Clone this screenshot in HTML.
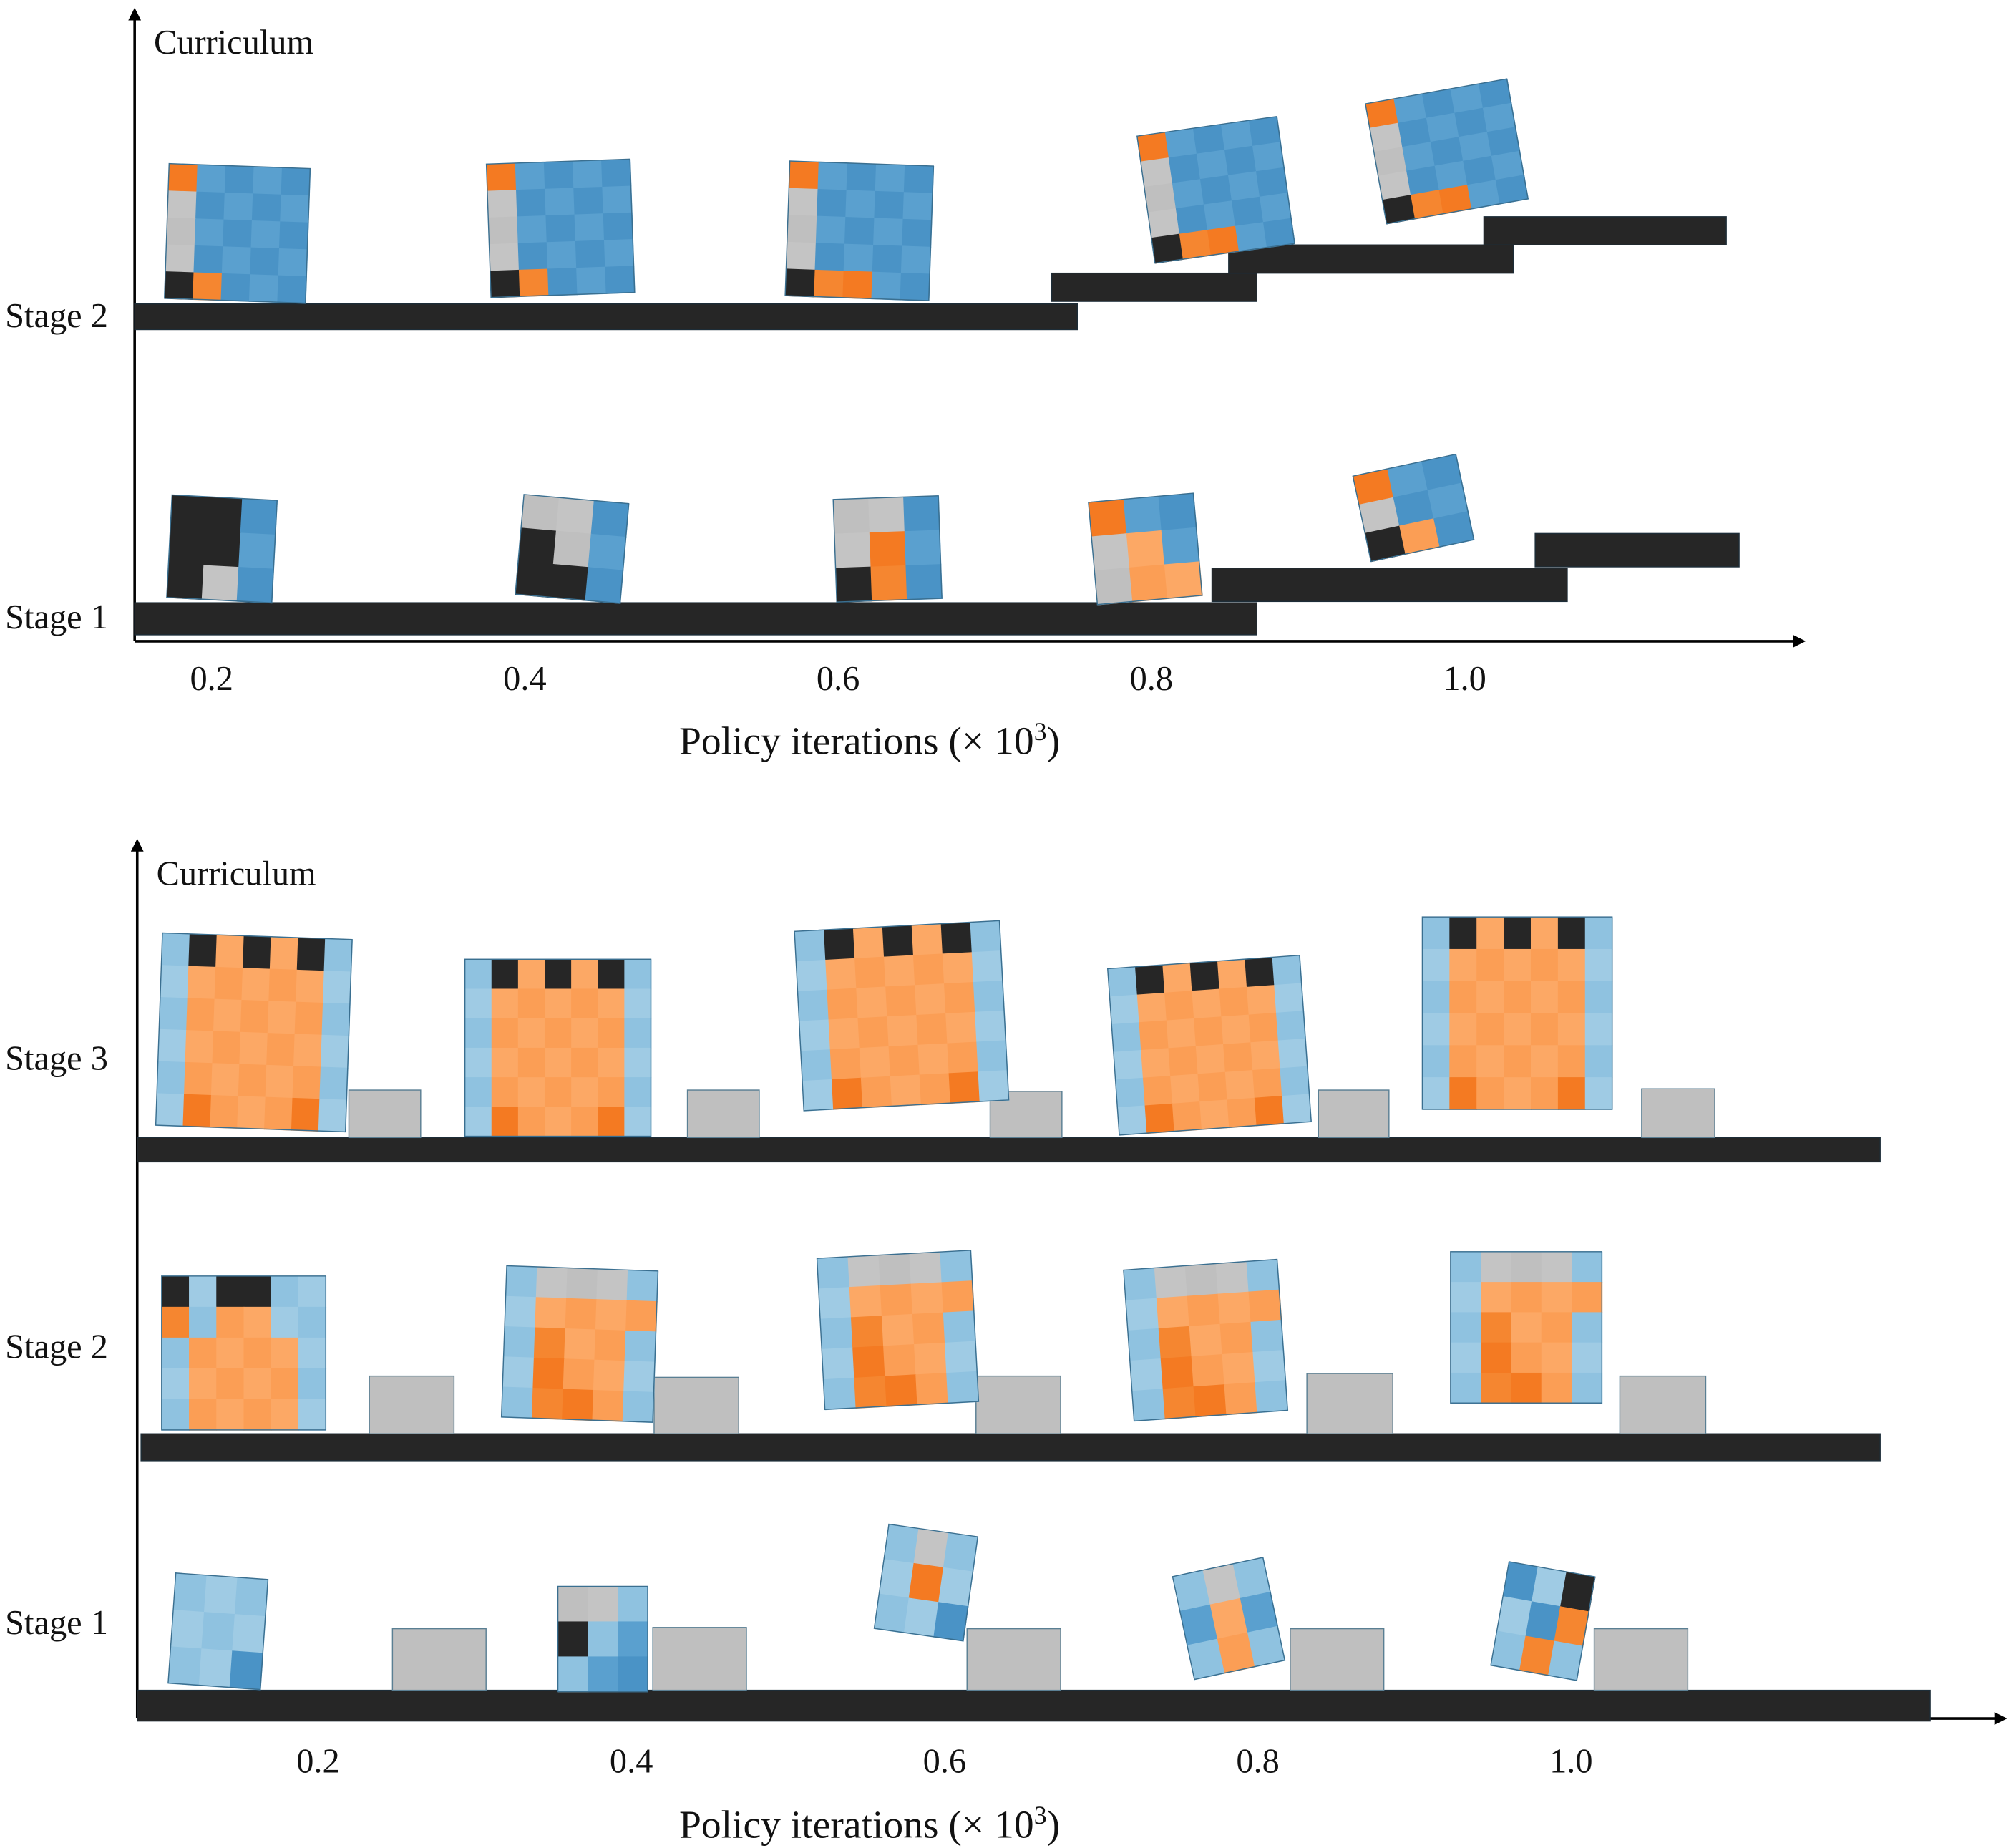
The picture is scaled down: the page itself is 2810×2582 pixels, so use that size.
<!DOCTYPE html>
<html><head><meta charset="utf-8"><style>
html,body{margin:0;padding:0;background:#fff}
svg{display:block}
text{font-family:"Liberation Serif",serif;fill:#111}
</style></head><body>
<svg id="fig" width="2810" height="2582" viewBox="0 0 1568 1441" preserveAspectRatio="none" xmlns="http://www.w3.org/2000/svg">
<defs>
<marker id="arr" markerWidth="10" markerHeight="10" refX="8" refY="5" orient="auto" markerUnits="userSpaceOnUse"><path d="M0,0 L10,5 L0,10 z" fill="#000"/></marker>
</defs>
<g id="top"></g>
<g id="bot"></g>
</svg>
<script>
const NS="http://www.w3.org/2000/svg";
const topTickLabels=["0.2","0.4","0.6","0.8","1.0"];
const topTickValues=[0.2,0.4,0.6,0.8,1.0];
const botTickLabels=["0.2","0.4","0.6","0.8","1.0"];
const botTickValues=[0.2,0.4,0.6,0.8,1.0];
const topStages=["Stage 2","Stage 1"];
const botStages=["Stage 3","Stage 2","Stage 1"];

function mk(tag,attrs,parent,txt){const e=document.createElementNS(NS,tag);for(const k in attrs)e.setAttribute(k,attrs[k]);if(txt!==undefined)e.textContent=txt;parent.appendChild(e);return e;}
const topG=document.getElementById('top'), botG=document.getElementById('bot');
const xTop=v=>165+(v-0.2)/0.8*(1142-165);
const xBot=v=>248+(v-0.2)/0.8*(1225-248);

function axes(g,x0,yTop,yBase,xEnd,ticks,labels,xf,tickY,titleY,stageNames,stageYs){
 let a=mk('line',{x1:x0,y1:yBase,x2:x0,y2:yTop,stroke:'#000','stroke-width':2,'marker-end':'url(#arr)'},g);
 
 let b=mk('line',{x1:x0,y1:yBase,x2:xEnd,y2:yBase,stroke:'#000','stroke-width':2,'marker-end':'url(#arr)'},g);
 
 let c=mk('text',{x:x0+15,y:yTop+34,'font-size':27},g,'Curriculum');
 
 ticks.forEach((v,i)=>{let t=mk('text',{x:xf(v),y:tickY,'font-size':27,'text-anchor':'middle'},g,labels[i]);
  });
 let tt=mk('text',{x:678,y:titleY,'font-size':31,'text-anchor':'middle'},g);
 
 tt.innerHTML='Policy iterations (× 10<tspan dy="-11" font-size="20">3</tspan><tspan dy="11">)</tspan>';
 stageNames.forEach((s,i)=>{let t=mk('text',{x:4,y:stageYs[i],'font-size':27},g,s);
  });
}
axes(topG,105,8,500,1406,topTickValues,topTickLabels,xTop,538,588,topStages,[255,490]);
axes(botG,107,656,1340,1563,botTickValues,botTickLabels,xBot,1382,1433,botStages,[834,1059,1274]);

function rect(g,x,y,w,h,fill,name){let r=mk('rect',{x:x,y:y,width:w,height:h,fill:fill,stroke:fill==='#bfbfbf'?'#5a7f93':'#1d2d38','stroke-width':0.8},g);
 }
const K='#262626';
[[105,237,735,20],[820,213,160,22],[958,191,222,22],[1157,169,189,22]].forEach(b=>rect(topG,...b,K,'terrain-step'));
[[105,470,875,25],[945,443,277,26],[1197,416,159,26]].forEach(b=>rect(topG,...b,K,'terrain-step'));
[[107,887,1359,19],[110,1118,1356,21],[107,1318,1398,24]].forEach(b=>rect(botG,...b,K,'floor'));
[[272,850,56,37],[536,850,56,37],[772,851,56,36],[1028,850,55,37],[1280,849,57,38],
 [288,1073,66,45],[510,1074,66,44],[761,1073,66,45],[1019,1071,67,47],[1263,1073,67,45],
 [306,1270,73,48],[509,1269,73,49],[754,1270,73,48],[1006,1270,73,48],[1243,1270,73,48]].forEach(b=>rect(botG,...b,'#bfbfbf','obstacle-box'));

const C={B:['#4a93c6','#5aa0cf'],b:['#8fc2e0','#9fcbe4'],O:['#f47a22','#f58630'],o:['#fca865','#fb9e55'],K:['#262626','#262626'],G:['#bfbfbf','#c4c4c4']};
function robot(g,cx,cy,w,h,rot,pat){
 const gg=mk('g',{transform:`translate(${cx},${cy}) rotate(${rot})`},g);
 
 const rows=pat.length,cols=pat[0].length,cw=w/cols,ch=h/rows;
 for(let r=0;r<rows;r++)for(let c=0;c<cols;c++){const k=pat[r][c];if(k==='.')continue;
  mk('rect',{x:-w/2+c*cw,y:-h/2+r*ch,width:cw+0.5,height:ch+0.5,fill:C[k][(r+c)%2]},gg);}
 mk('rect',{x:-w/2,y:-h/2,width:w,height:h,fill:'none',stroke:'#3a6f90','stroke-width':0.8},gg);
}
const pT2a=["OBBBB","GBBBB","GBBBB","GBBBB","KOBBB"], pT2b=["OBBBB","GBBBB","GBBBB","GBBBB","KOOBB"];
[[185,182,110,105,2,pT2a],[437,178,112,104,-2,pT2a],[670,180,112,105,2,pT2b],[948,148,110,100,-8,pT2b],[1128,118,112,95,-10,pT2b]].forEach(a=>robot(topG,...a));
[[173,428,82,80,3,["KKB","KKB","KGB"]],[446,428,82,78,5,["GGB","KGB","KKB"]],[692,428,82,80,-2,["GGB","GOB","KOB"]],[893,428,82,80,-5,["OBB","GoB","Goo"]],[1102,396,82,68,-12,["OBB","GBB","KoB"]]].forEach(a=>robot(topG,...a));
const pS3=["bKoKoKb","booooob","booooob","booooob","booooob","bOoooOb"];
[[198,805,148,150,2,pS3],[435,817,145,138,0,pS3],[703,792,160,140,-3,pS3],[943,815,150,130,-4,pS3],[1183,790,148,150,0,pS3]].forEach(a=>robot(botG,...a));
const pS2=["KbKKbb","Oboobb","boooob","boooob","boooob"], pS2b=["bGGGb","boooo","bOoob","bOoob","bOOob"];
[[190,1055,128,120,0,pS2],[452,1048,118,118,2,pS2b],[700,1037,120,118,-3,pS2b],[940,1045,120,118,-4,pS2b],[1190,1035,118,118,0,pS2b]].forEach(a=>robot(botG,...a));
[[170,1272,72,86,4,["bbb","bbb","bbB"]],[470,1278,70,82,0,["GGb","KbB","bBB"]],[722,1234,70,82,8,["bGb","bOb","bbB"]],[958,1262,72,82,-12,["bGb","BoB","bob"]],[1203,1264,68,82,10,["BbK","bBO","bOb"]]].forEach(a=>robot(botG,...a));
</script>
</body></html>
